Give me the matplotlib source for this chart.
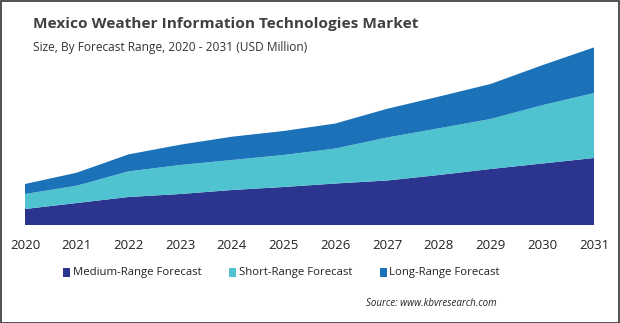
import matplotlib.pyplot as plt
from matplotlib.patches import Rectangle

years = [2020, 2021, 2022, 2023, 2024, 2025, 2026, 2027, 2028, 2029, 2030, 2031]
medium_range = [16, 22, 28, 31, 35, 38, 41.5, 44.5, 50, 56, 61.5, 67]
short_range = [15, 17.3, 25.6, 29, 30, 32, 35, 43, 46.7, 50, 58.3, 65]
long_range = [10, 13, 17, 20.3, 23.3, 24, 25, 28.7, 31.7, 35, 40, 45.6]
series_names = ["Medium-Range Forecast", "Short-Range Forecast", "Long-Range Forecast"]
colors = ["#2B3590", "#4FC3CF", "#1B72B8"]

W, H = 620, 323
fig = plt.figure(figsize=(W / 100, H / 100), dpi=100)
plt.rcParams['font.family'] = ['Open Sans', 'DejaVu Sans']

ax_left, ax_right = 25, 594
ax_bottom, ax_top = 225, 40
ax = fig.add_axes([ax_left / W, (H - ax_bottom) / H, (ax_right - ax_left) / W, (ax_bottom - ax_top) / H])
ax.stackplot(years, medium_range, short_range, long_range, colors=colors, linewidth=0)
ax.set_xlim(years[0], years[-1])
ax.set_ylim(0, ax_bottom - ax_top)
for s in ax.spines.values():
    s.set_visible(False)
ax.set_yticks([])
ax.set_xticks(years)
ax.set_xticklabels([str(y) for y in years], fontsize=9.5, color="#222222")
ax.tick_params(axis='x', length=0, pad=10)

fig.text(33 / W, 1 - 24 / H, "Mexico Weather Information Technologies Market", fontsize=11.1,
         fontweight='bold', color="#404040", va='center', ha='left')
fig.text(33 / W, 1 - 47 / H, "Size, By Forecast Range, 2020 - 2031 (USD Million)", fontsize=8.6,
         color="#333333", va='center', ha='left')

# legend
leg_y = 272.5
leg_items = [(63, 73), (229, 239), (380, 389)]
for (sx, tx), name, c in zip(leg_items, series_names, colors):
    fig.patches.append(Rectangle((sx / W, 1 - (leg_y + 4.5) / H), 6.5 / W, 9 / H,
                                 transform=fig.transFigure, facecolor=c, edgecolor='none'))
    fig.text(tx / W, 1 - leg_y / H, name, fontsize=8.2, color="#222222", va='center', ha='left')

fig.text(497 / W, 1 - 304 / H, "Source: www.kbvresearch.com", fontsize=7, style='italic',
         color="#222222", va='center', ha='right')

fig.patches.append(Rectangle((0.5 / W, 0.5 / H), (W - 1.5) / W, (H - 1.5) / H, transform=fig.transFigure,
                             facecolor='none', edgecolor='#333333', linewidth=1.2))

fig.savefig("out.png", dpi=100)
